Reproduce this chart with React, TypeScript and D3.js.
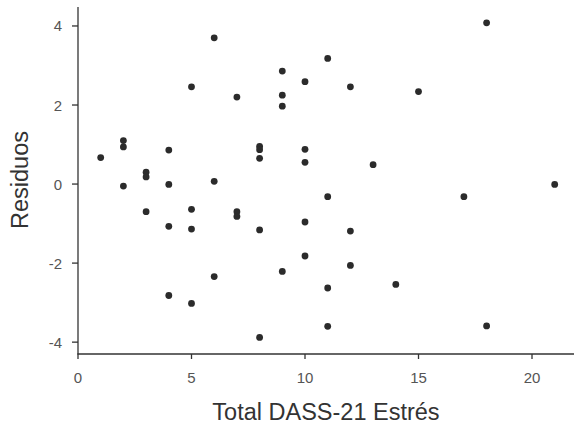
import React from "react";
import * as d3 from "d3";

const xValues = [
  1,
  2, 2, 2,
  3, 3, 3,
  4, 4, 4, 4,
  5, 5, 5, 5,
  6, 6, 6,
  7, 7, 7,
  8, 8, 8, 8, 8,
  9, 9, 9, 9,
  10, 10, 10, 10, 10,
  11, 11, 11, 11,
  12, 12, 12,
  13,
  14,
  15,
  17,
  18, 18,
  21,
];
const residuals = [
  0.67,
  1.1, 0.94, -0.05,
  0.3, 0.18, -0.7,
  0.86, -0.01, -1.07, -2.82,
  2.46, -0.64, -1.14, -3.02,
  3.7, 0.07, -2.34,
  2.2, -0.7, -0.82,
  0.95, 0.87, 0.65, -1.16, -3.88,
  2.86, 2.25, 1.97, -2.21,
  2.59, 0.88, 0.55, -0.96, -1.82,
  3.18, -0.32, -2.63, -3.6,
  2.46, -1.19, -2.06,
  0.49,
  -2.54,
  2.34,
  -0.32,
  4.08, -3.59,
  -0.01,
];
const xTicks = [0, 5, 10, 15, 20];
const yTicks = [-4, -2, 0, 2, 4];
const xTitle = "Total DASS-21 Estrés";
const yTitle = "Residuos";

export default function App() {
  const W = 574;
  const H = 430;
  const x = d3.scaleLinear().domain([0, 21.85]).range([78, 574]);
  const y = d3.scaleLinear().domain([-4.3, 4.48]).range([354, 7]);
  const font = "'Liberation Sans', Arial, Helvetica, sans-serif";
  const axisColor = "#333333";
  const tickText = "#555555";
  const titleText = "#333333";
  const [x0, x1] = x.range();
  const [y0, y1] = y.range();
  return (
    <svg
      width={W}
      height={H}
      style={{ position: "absolute", left: 0, top: 0, background: "#fff" }}
      fontFamily={font}
    >
      <rect x={0} y={0} width={W} height={H} fill="#fff" />
      {/* y axis */}
      <line x1={x0} x2={x0} y1={y1} y2={y0} stroke={axisColor} strokeWidth={1.3} />
      {yTicks.map((t) => (
        <g key={"y" + t}>
          <line x1={x0 - 6} x2={x0} y1={y(t)} y2={y(t)} stroke={axisColor} strokeWidth={1.3} />
          <text
            x={62}
            y={y(t)}
            textAnchor="end"
            dominantBaseline="central"
            fontSize={15}
            fill={tickText}
          >
            {t}
          </text>
        </g>
      ))}
      {/* x axis */}
      <line x1={x0 - 0.65} x2={x1} y1={y0} y2={y0} stroke={axisColor} strokeWidth={1.3} />
      {xTicks.map((t) => (
        <g key={"x" + t}>
          <line x1={x(t)} x2={x(t)} y1={y0} y2={y0 + 5} stroke={axisColor} strokeWidth={1.3} />
          <text x={x(t)} y={383} textAnchor="middle" fontSize={15} fill={tickText}>
            {t}
          </text>
        </g>
      ))}
      {/* points */}
      {xValues.map((v, i) => (
        <circle key={i} cx={x(v)} cy={y(residuals[i])} r={3.4} fill="#2b2b2b" />
      ))}
      {/* titles */}
      <text x={326} y={420} textAnchor="middle" fontSize={23.5} fill={titleText}>
        {xTitle}
      </text>
      <text
        transform={`translate(28, 180) rotate(-90)`}
        textAnchor="middle"
        fontSize={23.5}
        fill={titleText}
      >
        {yTitle}
      </text>
    </svg>
  );
}
